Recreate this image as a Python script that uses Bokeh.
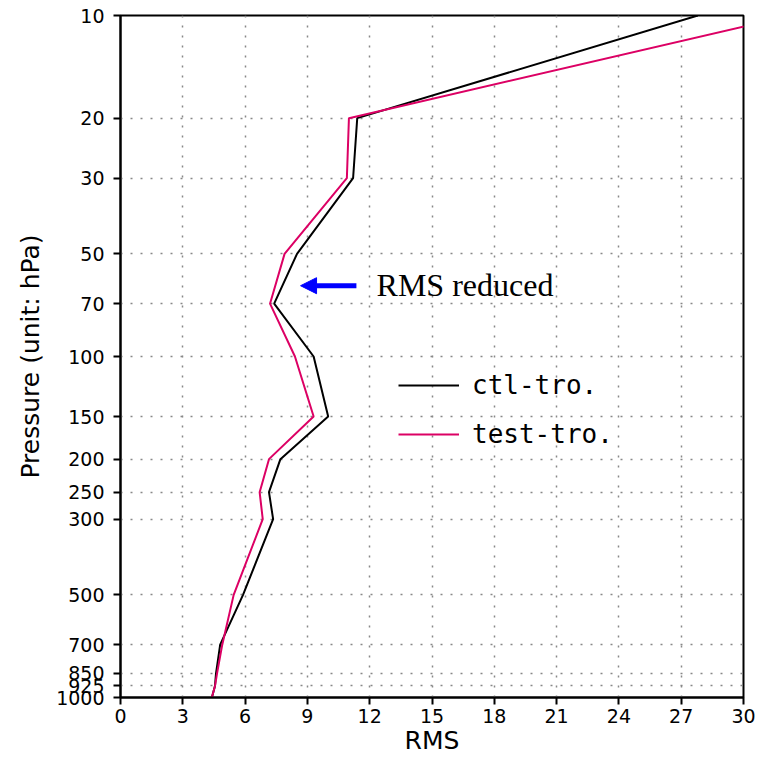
from bokeh.plotting import figure
from bokeh.models import (Range1d, FixedTicker, NumeralTickFormatter, Arrow, NormalHead,
                          Legend, LegendItem, Label)
from bokeh.embed import file_html
from bokeh.resources import INLINE

levels = [10, 20, 30, 50, 70, 100, 150, 200, 250, 300, 500, 700, 850, 925, 1000]
ctl_rms = [27.8, 11.4, 11.2, 8.5, 7.4, 9.3, 10.0, 7.7, 7.15, 7.35, 5.9, 4.8, 4.6, 4.55, 4.4]
test_rms = [32.3, 11.0, 10.9, 7.9, 7.2, 8.4, 9.3, 7.15, 6.7, 6.85, 5.45, 4.9, 4.65, 4.55, 4.4]
x_ticks = [0, 3, 6, 9, 12, 15, 18, 21, 24, 27, 30]
series_names = ["ctl-tro.", "test-tro."]
annotation_text = "RMS reduced"

p = figure(width=757, height=759, output_backend="svg", toolbar_location=None,
           y_axis_type="log", x_range=Range1d(0, 30), y_range=Range1d(1000, 10),
           min_border_left=120, min_border_right=14, min_border_top=15, min_border_bottom=62)

p.outline_line_color = "black"
p.outline_line_width = 2
p.background_fill_color = "white"

p.xaxis.ticker = FixedTicker(ticks=x_ticks)
p.yaxis.ticker = FixedTicker(ticks=levels)
p.yaxis.formatter = NumeralTickFormatter(format="0")
for ax in (p.xaxis[0], p.yaxis[0]):
    ax.axis_line_color = "black"
    ax.axis_line_width = 2
    ax.major_tick_line_color = "black"
    ax.major_tick_line_width = 2
    ax.major_tick_out = 7
    ax.major_tick_in = 0
    ax.minor_tick_line_color = None
    ax.major_label_text_font = "DejaVu Sans"
    ax.major_label_text_font_size = "19px"
    ax.major_label_text_color = "black"
    ax.axis_label_text_font = "DejaVu Sans"
    ax.axis_label_text_font_size = "25px"
    ax.axis_label_text_font_style = "normal"
    ax.axis_label_text_color = "black"
p.xaxis.axis_label = "RMS"
p.yaxis.axis_label = "Pressure (unit: hPa)"
p.xaxis.major_label_standoff = 4
p.yaxis.major_label_standoff = 9
p.xaxis.axis_label_standoff = 0
p.yaxis.axis_label_standoff = 8

for g in (p.xgrid[0], p.ygrid[0]):
    g.grid_line_color = "#888888"
    g.grid_line_width = 1.5
    g.grid_line_dash = "2 8"

r_ctl = p.line(ctl_rms, levels, line_color="black", line_width=2)
r_test = p.line(test_rms, levels, line_color="#dc0064", line_width=2)

legend = Legend(items=[LegendItem(label=series_names[0], renderers=[r_ctl]),
                       LegendItem(label=series_names[1], renderers=[r_test])],
                location=(278, 248), orientation="vertical",
                glyph_width=61, glyph_height=30, spacing=19, label_standoff=13,
                padding=0, margin=0, border_line_alpha=0, background_fill_alpha=0,
                label_text_font="DejaVu Sans Mono", label_text_font_size="26px",
                label_text_color="black")
p.add_layout(legend, "center")

arrow = Arrow(end=NormalHead(size=16, fill_color="blue", line_color="blue"),
              x_start=11.36, y_start=62, x_end=8.67, y_end=62,
              line_color="blue", line_width=5)
p.add_layout(arrow)

lab = Label(x=12.33, y=61.5, text=annotation_text, text_font="Liberation Serif",
            text_font_size="32px", text_baseline="middle", text_color="black")
p.add_layout(lab)

open("out.html", "w").write(file_html(p, INLINE))
